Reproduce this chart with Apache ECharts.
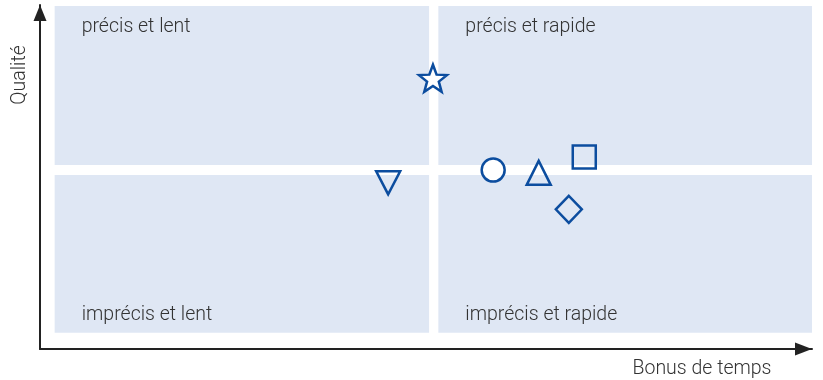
<!DOCTYPE html>
<html>
<head>
<meta charset="utf-8">
<script src="https://cdn.jsdelivr.net/npm/echarts@6/dist/echarts.min.js"></script>
<style>
  html, body { margin: 0; padding: 0; background: #fff; }
  #chart { width: 823px; height: 380px; }
</style>
</head>
<body>
<div id="chart"></div>
<script>
// one hollow marker per item, positions in axis units (0-100)
const names = ["étoile", "triangle bas", "cercle", "triangle", "carré", "losange"];
const bonusTemps = [50.9, 45.1, 58.7, 64.6, 70.5, 68.5];
const qualite = [78.7, 48.3, 52.0, 51.2, 55.8, 40.6];
const quadrantNames = ["précis et lent", "précis et rapide", "imprécis et lent", "imprécis et rapide"];

const BLUE = "#0c4d9f";
const STAR = "path://M0,-10 L2.47,-3.4 L9.51,-3.09 L3.99,1.3 L5.88,8.09 L0,4.2 L-5.88,8.09 L-3.99,1.3 L-9.51,-3.09 L-2.47,-3.4 Z";
const markerStyle = [
  { symbol: STAR, symbolSize: [28, 27], fill: "#ffffff", rotate: 0 },
  { symbol: "triangle", symbolSize: [24, 23], fill: "transparent", rotate: 180 },
  { symbol: "circle", symbolSize: 23, fill: "#ffffff", rotate: 0 },
  { symbol: "triangle", symbolSize: [24, 24], fill: "transparent", rotate: 0 },
  { symbol: "rect", symbolSize: 23, fill: "transparent", rotate: 0 },
  { symbol: "diamond", symbolSize: [26, 27], fill: "transparent", rotate: 0 },
];

// quadrant bounds (axis units), with a small white gap between them
const qx = [[1.9, 50.4], [51.6, 100], [1.9, 50.4], [51.6, 100]];
const qy = [[53.5, 99.7], [53.5, 99.7], [4.7, 50.6], [4.7, 50.6]];

const chart = echarts.init(document.getElementById("chart"), null, { renderer: "canvas" });

const labelFont = { fontFamily: "Roboto", fontWeight: 300, fontSize: 19.5, color: "#333333" };

const axisCommon = {
  type: "value", min: 0, max: 100,
  axisTick: { show: false }, axisLabel: { show: false }, splitLine: { show: false },
};

chart.setOption({
  animation: false,
  grid: { left: 40, right: 11, top: 5, bottom: 31 },
  xAxis: {
    ...axisCommon,
    axisLine: {
      show: true, onZero: false,
      symbol: ["none", "triangle"], symbolSize: [13, 17], symbolOffset: [0, -8.5],
      lineStyle: { color: "#222222", width: 2 },
    },
  },
  yAxis: {
    ...axisCommon,
    axisLine: {
      show: true, onZero: false,
      symbol: ["none", "triangle"], symbolSize: [13, 16], symbolOffset: [0, -8],
      lineStyle: { color: "#222222", width: 2 },
    },
  },
  graphic: [
    {
      type: "text", x: 20, y: 75, rotation: Math.PI / 2,
      style: { text: "Qualité", ...labelFont, fill: "#333333", fontSize: 19.5, align: "center", verticalAlign: "middle" },
    },
    {
      type: "text", x: 702, y: 369,
      style: { text: "Bonus de temps", ...labelFont, fill: "#333333", fontSize: 19.5, align: "center", verticalAlign: "middle" },
    },
  ],
  series: [{
    type: "scatter",
    silent: true,
    data: names.map((n, i) => ({
      name: n,
      value: [bonusTemps[i], qualite[i]],
      symbol: markerStyle[i].symbol,
      symbolSize: markerStyle[i].symbolSize,
      symbolRotate: markerStyle[i].rotate,
      itemStyle: { color: markerStyle[i].fill, borderColor: BLUE, borderWidth: 2.5, opacity: 1 },
    })),
    markArea: {
      silent: true,
      itemStyle: { color: "#dfe7f4" },
      data: quadrantNames.map((q, i) => [
        {
          name: q,
          coord: [qx[i][0], qy[i][1]],
          label: {
            show: true,
            position: i < 2 ? [27, 11] : [27, 130],
            ...labelFont,
          },
        },
        { coord: [qx[i][1], qy[i][0]] },
      ]),
    },
    z: 3,
  }],
});
</script>
</body>
</html>
